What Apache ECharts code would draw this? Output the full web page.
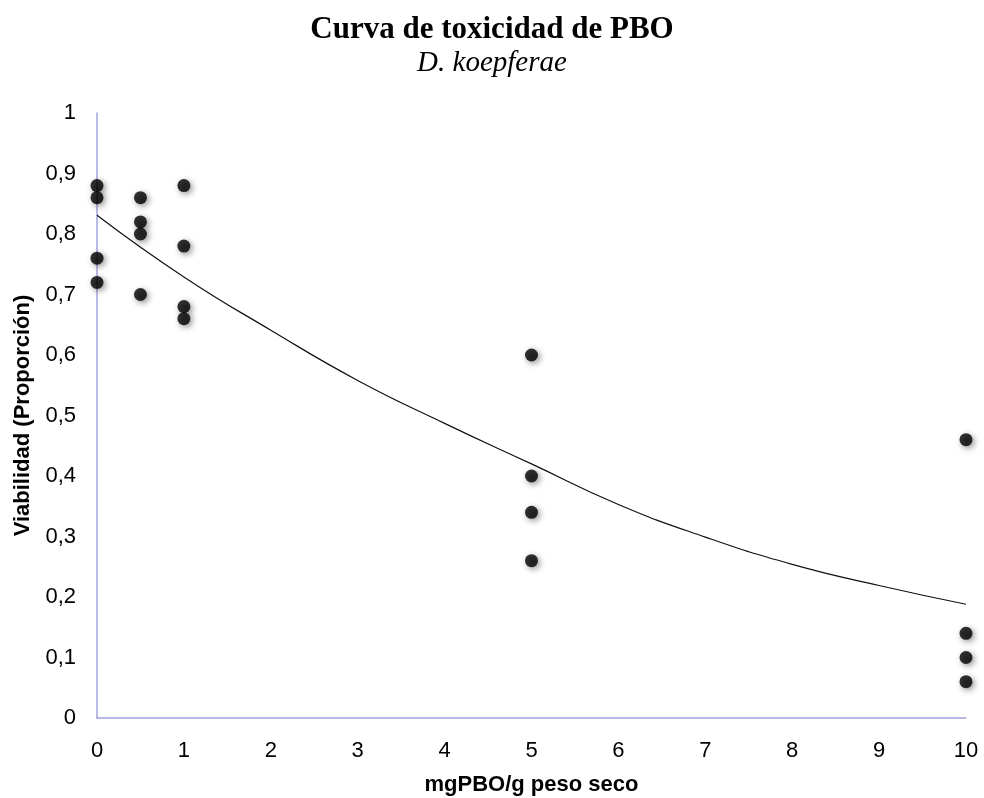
<!DOCTYPE html>
<html>
<head>
<meta charset="utf-8">
<script src="https://cdn.jsdelivr.net/npm/echarts@6/dist/echarts.min.js"></script>
<style>
  html, body { margin: 0; padding: 0; background: #fff; }
  #chart { width: 984px; height: 798px; }
</style>
</head>
<body>
<div id="chart"></div>
<script>
// Observed viability per dose (mg PBO / g dry weight)
const doses = [0, 0, 0, 0, 0.5, 0.5, 0.5, 0.5, 1, 1, 1, 1, 5, 5, 5, 5, 10, 10, 10, 10];
const viability = [0.88, 0.86, 0.76, 0.72, 0.86, 0.82, 0.80, 0.70, 0.88, 0.78, 0.68, 0.66,
                   0.60, 0.40, 0.34, 0.26, 0.46, 0.14, 0.10, 0.06];

// Fitted trend curve
const curveX = [0, 1, 2, 3, 4, 5, 6, 7, 8, 9, 10];
const curveY = [0.831, 0.729, 0.641, 0.558, 0.487, 0.42, 0.353, 0.299, 0.254, 0.219, 0.188];

const titleText = 'Curva de toxicidad de PBO';
const subtitleText = 'D. koepferae';
const xName = 'mgPBO/g peso seco';
const yName = 'Viabilidad (Proporción)';

const points = doses.map((d, i) => [d, viability[i]]);
const curve = curveX.map((x, i) => [x, curveY[i]]);

const axisColor = '#a3a3de';
const sans = '"Liberation Sans", Arial, sans-serif';
const serif = '"Liberation Serif", "Times New Roman", serif';

const chart = echarts.init(document.getElementById('chart'), null, { renderer: 'canvas' });
chart.setOption({
  animation: false,
  backgroundColor: '#ffffff',
  title: [
    { text: titleText, left: 'center', top: 9,
      textStyle: { fontFamily: serif, fontWeight: 'bold', fontSize: 31, color: '#000' } },
    { text: subtitleText, left: 'center', top: 44,
      textStyle: { fontFamily: serif, fontStyle: 'italic', fontWeight: 'normal', fontSize: 29, color: '#000' } }
  ],
  grid: { left: 97, right: 18, top: 113, bottom: 80, containLabel: false, outerBoundsMode: 'none' },
  xAxis: {
    type: 'value', min: 0, max: 10, interval: 1,
    name: xName, nameLocation: 'middle', nameGap: 56,
    nameTextStyle: { fontFamily: sans, fontWeight: 'bold', fontSize: 22, color: '#000' },
    axisLine: { show: true, lineStyle: { color: axisColor, width: 1.5 } },
    axisTick: { show: false },
    splitLine: { show: false },
    axisLabel: { fontFamily: sans, fontSize: 22, color: '#000', margin: 22 }
  },
  yAxis: {
    type: 'value', min: 0, max: 1, interval: 0.1,
    name: yName, nameLocation: 'middle', nameGap: 63, nameRotate: 90,
    nameTextStyle: { fontFamily: sans, fontWeight: 'bold', fontSize: 22, color: '#000' },
    axisLine: { show: true, lineStyle: { color: axisColor, width: 1.5 } },
    axisTick: { show: false },
    splitLine: { show: false },
    axisLabel: {
      fontFamily: sans, fontSize: 22, color: '#000', margin: 21,
      formatter: v => String(Math.round(v * 10) / 10).replace('.', ',')
    }
  },
  series: [
    {
      type: 'line', data: curve, smooth: 0.5, symbol: 'none', z: 2,
      lineStyle: { color: '#111', width: 1.2 }
    },
    {
      type: 'scatter', data: points, symbol: 'circle', symbolSize: 13, z: 3,
      itemStyle: {
        color: '#000',
        shadowColor: 'rgba(0,0,0,0.55)', shadowBlur: 6, shadowOffsetX: 2, shadowOffsetY: 2
      }
    }
  ]
});
</script>
</body>
</html>
